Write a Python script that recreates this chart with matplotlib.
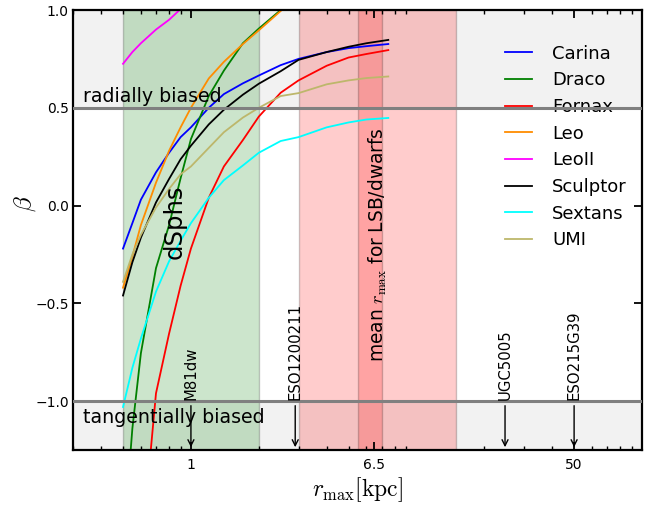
import numpy as np
import matplotlib
matplotlib.use("Agg")
import matplotlib.pyplot as plt
from matplotlib.ticker import FixedLocator, LogLocator, NullFormatter

plt.rcParams['mathtext.fontset'] = 'cm'
plt.rcParams['font.family'] = ['DejaVu Sans']

nan = np.nan
# radius grid (kpc)
r = [0.5, 0.55, 0.6, 0.7, 0.8, 0.9, 1.0, 1.2, 1.4, 1.7, 2.0, 2.5, 3.0, 4.0, 5.0, 6.0, 7.5]

carina   = [-0.22, -0.09, 0.03, 0.17, 0.27, 0.35, 0.40, 0.50, 0.57, 0.625, 0.665, 0.718, 0.75, 0.785, 0.805, 0.815, 0.826]
draco    = [-1.75, -1.14, -0.755, -0.32, -0.10, 0.14, 0.34, 0.56, 0.69, 0.83, 0.905, 1.0, 1.07, nan, nan, nan, nan]
fornax   = [-2.6, -2.2, -1.8, -0.96, -0.655, -0.41, -0.22, 0.04, 0.20, 0.335, 0.455, 0.577, 0.64, 0.715, 0.757, 0.775, 0.795]
leo      = [-0.42, -0.26, -0.10, 0.117, 0.28, 0.40, 0.50, 0.65, 0.735, 0.826, 0.896, 0.995, 1.07, nan, nan, nan, nan]
leoii    = [0.725, 0.785, 0.83, 0.90, 0.95, 1.005, 1.05, nan, nan, nan, nan, nan, nan, nan, nan, nan, nan]
sculptor = [-0.46, -0.29, -0.164, 0.016, 0.136, 0.237, 0.306, 0.415, 0.49, 0.567, 0.623, 0.687, 0.745, 0.785, 0.812, 0.83, 0.847]
sextans  = [-1.03, -0.83, -0.68, -0.44, -0.285, -0.18, -0.09, 0.04, 0.13, 0.205, 0.27, 0.33, 0.35, 0.40, 0.425, 0.44, 0.448]
umi      = [-0.39, -0.25, -0.15, -0.01, 0.085, 0.16, 0.20, 0.295, 0.375, 0.45, 0.50, 0.56, 0.575, 0.62, 0.64, 0.652, 0.66]

names  = ['Carina', 'Draco', 'Fornax', 'Leo', 'LeoII', 'Sculptor', 'Sextans', 'UMI']
series = [carina, draco, fornax, leo, leoii, sculptor, sextans, umi]
colors = ['blue', 'green', 'red', 'darkorange', 'magenta', 'black', 'cyan', 'darkkhaki']

dsph_band = (0.5, 2.0)
lsb_band = (3.0, 15.0)
mean_band = (5.5, 7.0)
radial_thr = 0.5
tang_thr = -1.0

galaxies = ['M81dw', 'ESO1200211', 'UGC5005', 'ESO215G39']
gal_r = [1.0, 2.9, 24.7, 50.0]

xticks = [1, 6.5, 50]
xticklabels = ['1', '6.5', '50']
yticks = [-1.0, -0.5, 0.0, 0.5, 1.0]

fig = plt.figure(figsize=(6.56, 5.08), dpi=100)
ax = fig.add_axes([73/656, 58/508, 569/656, 440/508])
ax.set_xscale('log')
ax.set_xlim(0.3, 100)
ax.set_ylim(-1.25, 1.0)

# shaded regions
ax.axhspan(radial_thr, 1.0, facecolor='k', alpha=0.05, edgecolor='none', zorder=0)
ax.axhspan(-1.25, tang_thr, facecolor='k', alpha=0.05, edgecolor='none', zorder=0)
ax.axvspan(*dsph_band, facecolor='green', edgecolor='k', lw=1, alpha=0.2, zorder=0.5)
ax.axvspan(*lsb_band, facecolor='red', edgecolor='k', lw=1, alpha=0.2, zorder=0.5)
ax.axvspan(*mean_band, facecolor='red', edgecolor='k', lw=1, alpha=0.2, zorder=0.6)

for n, s, c in zip(names, series, colors):
    ax.plot(r, s, color=c, lw=1.3, label=n, zorder=2)

ax.axhline(radial_thr, color='gray', lw=2.2, zorder=6)
ax.axhline(tang_thr, color='gray', lw=2.2, zorder=6)

ax.text(0.333, 0.531, 'radially biased', fontsize=13.7, va='baseline', ha='left', zorder=7)
ax.text(0.333, -1.114, 'tangentially biased', fontsize=13.7, va='baseline', ha='left', zorder=7)
ax.text(0.85, -0.085, 'dSphs', fontsize=17.5, rotation=90, ha='center', va='center', zorder=7)
ax.text(6.75, -0.20, r'mean $r_{\rm max}$ for LSB/dwarfs', fontsize=13.4, rotation=90,
        ha='center', va='center', zorder=7)

for g, x in zip(galaxies, gal_r):
    ax.annotate(g, xy=(x, -1.25), xytext=(x, -0.995), rotation=90, ha='center', va='bottom',
                fontsize=10.7, arrowprops=dict(arrowstyle='->', color='k', lw=1), zorder=7)

leg = ax.legend(loc='upper left', bbox_to_anchor=(497.8/656, 1 - 37.5/508),
                bbox_transform=fig.transFigure, frameon=False, fontsize=13,
                handlelength=1.5, handletextpad=1.1, labelspacing=0.48, borderaxespad=0)
leg.set_zorder(5)

ax.xaxis.set_major_locator(FixedLocator(xticks))
ax.set_xticklabels(xticklabels)
ax.xaxis.set_minor_locator(LogLocator(base=10, subs=np.arange(2, 10), numticks=20))
ax.xaxis.set_minor_formatter(NullFormatter())
ax.set_yticks(yticks)
ax.set_yticklabels(['\u22121.0', '\u22120.5', '0.0', '0.5', '1.0'])
ax.tick_params(which='both', direction='in', top=True, right=True, labelsize=10)
ax.tick_params(which='major', length=6, width=1.3)
ax.tick_params(which='minor', length=3, width=1.0)
ax.tick_params(axis='x', which='major', pad=6)
ax.tick_params(axis='y', which='major', pad=3)
for sp in ax.spines.values():
    sp.set_linewidth(1.6)

ax.set_xlabel(r'$r_{\rm max}[\rm kpc]$', fontsize=17, labelpad=2)
ax.set_ylabel(r'$\beta$', fontsize=18)
ax.yaxis.set_label_coords(-0.062, 0.56)

fig.savefig('out.png', dpi=100)
